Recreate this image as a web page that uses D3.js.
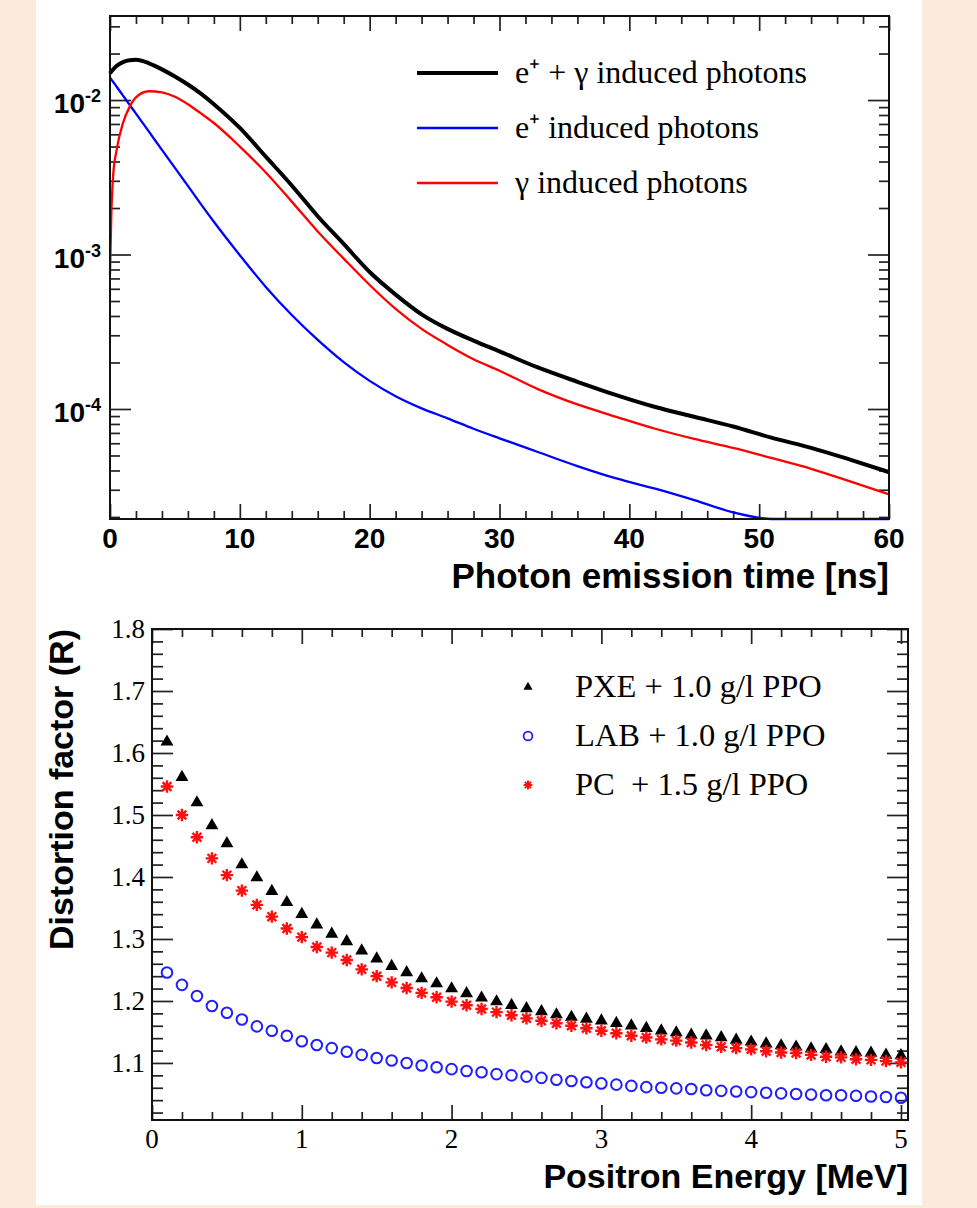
<!DOCTYPE html>
<html>
<head>
<meta charset="utf-8">
<script src="https://cdn.jsdelivr.net/npm/d3@7"></script>
<style>
body{margin:0;background:#faebdc;}
svg{display:block;}
</style>
</head>
<body>
<div id="chart"></div>
<script>
// ---- top panel : photon emission time spectra ----
var timeNs=[0,0.1,0.25,0.5,1,1.5,2,3,4,5,6,7,8,
	10,12,14,16,18,20,22,24,26,28,30,
	33,36,39,42,45,48,51,54,57,60];
var bothPhotons=[0.0149,0.0153,0.0158,0.0166,0.0176,0.0181,0.0182,0.0173,0.0158,0.0142,0.0126,0.0110,0.0094,
	0.0066,0.0043,0.0028,0.00177,0.00117,7.7e-4,5.5e-4,4.1e-4,3.3e-4,2.77e-4,2.36e-4,
	1.85e-4,1.5e-4,1.23e-4,1.03e-4,8.9e-5,7.7e-5,6.5e-5,5.6e-5,4.7e-5,3.9e-5];
var positronPhotons=[0.0140,0.01362,0.01308,0.01224,0.01069,0.00934,0.00817,0.00624,0.00476,0.00364,0.00278,0.00212,0.00163,
	9.9e-4,6.17e-4,4.06e-4,2.8e-4,2.01e-4,1.52e-4,1.21e-4,1.01e-4,8.7e-5,7.45e-5,6.46e-5,
	5.25e-5,4.27e-5,3.55e-5,3.05e-5,2.57e-5,2.14e-5,1.78e-5,1.48e-5,1.26e-5,1.07e-5];
var gammaPhotons=[7.4e-4,1.8e-3,3.3e-3,4.7e-3,7.1e-3,9.0e-3,0.0104,0.0114,0.0112,0.0105,0.0094,0.0082,0.0071,
	5.0e-3,3.4e-3,2.2e-3,1.41e-3,9.4e-4,6.35e-4,4.45e-4,3.3e-4,2.6e-4,2.1e-4,1.77e-4,
	1.34e-4,1.07e-4,8.9e-5,7.45e-5,6.4e-5,5.6e-5,4.8e-5,4.1e-5,3.4e-5,2.8e-5];
var timeTicks=[0,10,20,30,40,50,60];
var decadeTicks=[1e-4,1e-3,1e-2];
var decadeExp=["-4","-3","-2"];
var topLegend=["e⁺ + γ induced photons","e⁺ induced photons","γ induced photons"];

// ---- bottom panel : distortion factor ----
var energyMeV=[0.1,0.2,0.3,0.4,0.5,0.6,0.7,0.8,0.9,1.0,
	1.1,1.2,1.3,1.4,1.5,1.6,1.7,1.8,1.9,2.0,
	2.1,2.2,2.3,2.4,2.5,2.6,2.7,2.8,2.9,3.0,
	3.1,3.2,3.3,3.4,3.5,3.6,3.7,3.8,3.9,4.0,
	4.1,4.2,4.3,4.4,4.5,4.6,4.7,4.8,4.9,5.0];
var pxeR=[1.618,1.561,1.520,1.483,1.454,1.420,1.399,1.377,1.359,1.340,
	1.323,1.308,1.296,1.281,1.268,1.256,1.246,1.236,1.228,1.220,
	1.212,1.205,1.199,1.193,1.188,1.183,1.178,1.174,1.171,1.168,
	1.164,1.160,1.156,1.152,1.149,1.145,1.144,1.141,1.137,1.134,
	1.131,1.128,1.126,1.123,1.122,1.118,1.117,1.116,1.113,1.112];
var labR=[1.246,1.226,1.208,1.192,1.181,1.170,1.159,1.152,1.144,1.135,
	1.129,1.124,1.118,1.113,1.108,1.104,1.100,1.096,1.093,1.090,
	1.087,1.085,1.082,1.080,1.078,1.076,1.073,1.071,1.069,1.067,
	1.065,1.063,1.061,1.060,1.059,1.058,1.056,1.055,1.054,1.053,
	1.052,1.051,1.050,1.049,1.048,1.048,1.047,1.046,1.045,1.044];
var pcR=[1.546,1.500,1.464,1.430,1.403,1.378,1.355,1.336,1.317,1.303,
	1.287,1.278,1.266,1.251,1.240,1.230,1.221,1.213,1.206,1.199,
	1.193,1.187,1.182,1.177,1.172,1.168,1.164,1.160,1.156,1.152,
	1.148,1.144,1.141,1.138,1.136,1.133,1.129,1.126,1.124,1.122,
	1.119,1.117,1.116,1.113,1.110,1.109,1.106,1.105,1.103,1.101];
var energyTicks=[0,1,2,3,4,5];
var rTicks=[1.1,1.2,1.3,1.4,1.5,1.6,1.7,1.8];
var bottomLegend=["PXE + 1.0 g/l PPO","LAB + 1.0 g/l PPO","PC  + 1.5 g/l PPO"];

var W=977,H=1208;
var sans="'Liberation Sans', Arial, Helvetica, sans-serif";
var serif="'Liberation Serif', 'Times New Roman', serif";

var svg=d3.select('#chart').append('svg').attr('width',W).attr('height',H);
svg.append('rect').attr('width',W).attr('height',H).attr('fill','#faebdc');
svg.append('rect').attr('x',36).attr('y',0).attr('width',886).attr('height',1205).attr('fill','#fff');

function styleAxis(g){
	g.select('.domain').remove();
	g.selectAll('.tick line').attr('stroke','#222').attr('stroke-width',1.7);
	g.selectAll('.tick text').remove();
}

// ================= top panel =================
var t0=110,t1=889,tTop=16,tBot=519;
var xT=d3.scaleLinear().domain([0,60]).range([t0,t1]);
var yT=d3.scaleLog().domain([1.94e-5,0.035]).range([tBot,tTop]).clamp(true);

var xMinorT=d3.range(0,61,2).filter(function(d){return d%10!==0;});
var yMinorT=[];
[-5,-4,-3,-2].forEach(function(k){
	for(var m=2;m<10;m++){
		var v=m*Math.pow(10,k);
		if(v>yT.domain()[0]&&v<yT.domain()[1]) yMinorT.push(v);
	}
});

svg.append('g').attr('transform','translate(0,'+tBot+')')
	.call(d3.axisBottom(xT).tickValues(timeTicks).tickSize(-15).tickFormat('')).call(styleAxis);
svg.append('g').attr('transform','translate(0,'+tBot+')')
	.call(d3.axisBottom(xT).tickValues(xMinorT).tickSize(-8).tickFormat('')).call(styleAxis);
svg.append('g').attr('transform','translate(0,'+tTop+')')
	.call(d3.axisTop(xT).tickValues(timeTicks).tickSize(-15).tickFormat('')).call(styleAxis);
svg.append('g').attr('transform','translate(0,'+tTop+')')
	.call(d3.axisTop(xT).tickValues(xMinorT).tickSize(-8).tickFormat('')).call(styleAxis);
svg.append('g').attr('transform','translate('+t0+',0)')
	.call(d3.axisLeft(yT).tickValues(decadeTicks).tickSize(-21).tickFormat('')).call(styleAxis);
svg.append('g').attr('transform','translate('+t0+',0)')
	.call(d3.axisLeft(yT).tickValues(yMinorT).tickSize(-10).tickFormat('')).call(styleAxis);
svg.append('g').attr('transform','translate('+t1+',0)')
	.call(d3.axisRight(yT).tickValues(decadeTicks).tickSize(-21).tickFormat('')).call(styleAxis);
svg.append('g').attr('transform','translate('+t1+',0)')
	.call(d3.axisRight(yT).tickValues(yMinorT).tickSize(-10).tickFormat('')).call(styleAxis);

var topCurves=[
	{vals:positronPhotons,color:'#0000ff',w:2.3},
	{vals:gammaPhotons,color:'#ff0000',w:2.3},
	{vals:bothPhotons,color:'#000',w:4}
];
var lineT=d3.line()
	.x(function(d,i){return xT(timeNs[i]);})
	.y(function(d){return yT(d);})
	.curve(d3.curveMonotoneX);
svg.selectAll('path.curve').data(topCurves).enter().append('path')
	.attr('class','curve')
	.attr('d',function(c){return lineT(c.vals);})
	.attr('fill','none')
	.attr('stroke',function(c){return c.color;})
	.attr('stroke-width',function(c){return c.w;})
	.attr('stroke-linejoin','round');

svg.append('rect').attr('x',t0).attr('y',tTop).attr('width',t1-t0).attr('height',tBot-tTop)
	.attr('fill','none').attr('stroke','#111').attr('stroke-width',2);

// tick labels
svg.selectAll('text.tlx').data(timeTicks).enter().append('text')
	.attr('class','tlx')
	.attr('x',function(d){return xT(d);})
	.attr('y',548)
	.attr('text-anchor','middle')
	.style('font-family',sans).style('font-weight','bold').style('font-size','28px')
	.text(function(d){return d;});
var decLab=svg.selectAll('text.tly').data(decadeTicks).enter().append('text')
	.attr('class','tly')
	.attr('x',101)
	.attr('y',function(d){return yT(d)+13;})
	.attr('text-anchor','end')
	.style('font-family',sans).style('font-weight','bold').style('font-size','28px');
decLab.append('tspan').text('10');
decLab.append('tspan').attr('dy',-11).style('font-size','18px').text(function(d,i){return decadeExp[i];});

svg.append('text').attr('x',t1).attr('y',588).attr('text-anchor','end')
	.style('font-family',sans).style('font-weight','bold').style('font-size','35px')
	.text('Photon emission time [ns]');

// legend
var legT=svg.selectAll('g.legT').data(topLegend).enter().append('g')
	.attr('class','legT')
	.attr('transform',function(d,i){return 'translate(0,'+[73,128,183][i]+')';});
legT.append('line').attr('x1',417).attr('x2',498)
	.attr('stroke',function(d,i){return ['#000','#0000ff','#ff0000'][i];})
	.attr('stroke-width',function(d,i){return i===0?4:2.3;});
legT.append('text').attr('x',515).attr('y',10)
	.style('font-family',serif).style('font-size','32px')
	.text(function(d){return d;});

// ================= bottom panel =================
var b0=152,b1=908,bTop=629,bBot=1120;
var xB=d3.scaleLinear().domain([0,5.047]).range([b0,b1]);
var yB=d3.scaleLinear().domain([1.008,1.8]).range([bBot,bTop]);

var xMinorB=d3.range(0,5.05,0.2).filter(function(d){return Math.abs(d-Math.round(d))>1e-6;});
var yMinorB=d3.range(1.02,1.8,0.02).filter(function(d){return Math.abs(d*10-Math.round(d*10))>1e-6;});

svg.append('g').attr('transform','translate(0,'+bBot+')')
	.call(d3.axisBottom(xB).tickValues(energyTicks).tickSize(-15).tickFormat('')).call(styleAxis);
svg.append('g').attr('transform','translate(0,'+bBot+')')
	.call(d3.axisBottom(xB).tickValues(xMinorB).tickSize(-8).tickFormat('')).call(styleAxis);
svg.append('g').attr('transform','translate(0,'+bTop+')')
	.call(d3.axisTop(xB).tickValues(energyTicks).tickSize(-15).tickFormat('')).call(styleAxis);
svg.append('g').attr('transform','translate(0,'+bTop+')')
	.call(d3.axisTop(xB).tickValues(xMinorB).tickSize(-8).tickFormat('')).call(styleAxis);
svg.append('g').attr('transform','translate('+b0+',0)')
	.call(d3.axisLeft(yB).tickValues(rTicks).tickSize(-21).tickFormat('')).call(styleAxis);
svg.append('g').attr('transform','translate('+b0+',0)')
	.call(d3.axisLeft(yB).tickValues(yMinorB).tickSize(-11).tickFormat('')).call(styleAxis);
svg.append('g').attr('transform','translate('+b1+',0)')
	.call(d3.axisRight(yB).tickValues(rTicks).tickSize(-21).tickFormat('')).call(styleAxis);
svg.append('g').attr('transform','translate('+b1+',0)')
	.call(d3.axisRight(yB).tickValues(yMinorB).tickSize(-11).tickFormat('')).call(styleAxis);

svg.append('rect').attr('x',b0).attr('y',bTop).attr('width',b1-b0).attr('height',bBot-bTop)
	.attr('fill','none').attr('stroke','#111').attr('stroke-width',2);

var tri=d3.symbol().type(d3.symbolTriangle).size(72);
function starPath(s){
	var a=s*0.7071;
	return 'M'+(-s)+',0L'+s+',0M0,'+(-s)+'L0,'+s+
		'M'+(-a)+','+(-a)+'L'+a+','+a+'M'+(-a)+','+a+'L'+a+','+(-a);
}

svg.selectAll('path.pxe').data(pxeR).enter().append('path')
	.attr('class','pxe')
	.attr('transform',function(d,i){return 'translate('+xB(energyMeV[i])+','+yB(d)+')';})
	.attr('d',tri()).attr('fill','#000');
svg.selectAll('circle.lab').data(labR).enter().append('circle')
	.attr('class','lab')
	.attr('cx',function(d,i){return xB(energyMeV[i]);})
	.attr('cy',function(d){return yB(d);})
	.attr('r',5.3).attr('fill','none').attr('stroke','#1f1fff').attr('stroke-width',2);
svg.selectAll('path.pc').data(pcR).enter().append('path')
	.attr('class','pc')
	.attr('transform',function(d,i){return 'translate('+xB(energyMeV[i])+','+yB(d)+')';})
	.attr('d',starPath(6.2)).attr('fill','none').attr('stroke','#ff1010').attr('stroke-width',2.4);

svg.selectAll('text.blx').data(energyTicks).enter().append('text')
	.attr('class','blx')
	.attr('x',function(d){return xB(d);})
	.attr('y',1148)
	.attr('text-anchor','middle')
	.style('font-family',serif).style('font-size','27px')
	.text(function(d){return d;});
svg.selectAll('text.bly').data(rTicks).enter().append('text')
	.attr('class','bly')
	.attr('x',145)
	.attr('y',function(d){return yB(d)+9;})
	.attr('text-anchor','end')
	.style('font-family',serif).style('font-size','27px')
	.text(function(d){return d3.format('.1f')(d);});

svg.append('text').attr('x',b1).attr('y',1188).attr('text-anchor','end')
	.style('font-family',sans).style('font-weight','bold').style('font-size','34px')
	.text('Positron Energy [MeV]');
svg.append('text').attr('transform','translate(73,'+bTop+') rotate(-90)').attr('text-anchor','end')
	.style('font-family',sans).style('font-weight','bold').style('font-size','34px')
	.text('Distortion factor (R)');

// legend
var legB=svg.selectAll('g.legB').data(bottomLegend).enter().append('g')
	.attr('class','legB')
	.attr('transform',function(d,i){return 'translate(528,'+[687,736,785][i]+')';});
legB.filter(function(d,i){return i===0;}).append('path')
	.attr('d',d3.symbol().type(d3.symbolTriangle).size(36)()).attr('fill','#000');
legB.filter(function(d,i){return i===1;}).append('circle')
	.attr('r',4.4).attr('fill','none').attr('stroke','#1f1fff').attr('stroke-width',1.8);
legB.filter(function(d,i){return i===2;}).append('path')
	.attr('d',starPath(4.4)).attr('fill','none').attr('stroke','#ff1010').attr('stroke-width',2);
legB.append('text').attr('x',47).attr('y',10)
	.style('font-family',serif).style('font-size','32.5px').style('white-space','pre')
	.text(function(d){return d;});
</script>
</body>
</html>
